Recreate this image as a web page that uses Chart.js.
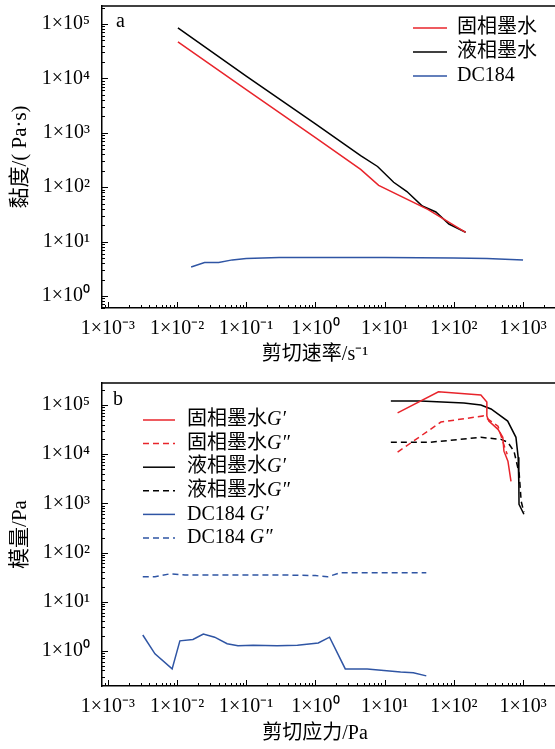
<!DOCTYPE html>
<html lang="zh">
<head>
<meta charset="utf-8">
<title>黏度与模量</title>
<script src="https://cdn.jsdelivr.net/npm/chart.js@4.4.0/dist/chart.umd.min.js"></script>
<style>
  body { margin: 0; background: #fff; }
  canvas { display: block; }
</style>
</head>
<body>
<canvas id="chartA" width="555" height="375"></canvas>
<canvas id="chartB" width="555" height="374"></canvas>
<script>
// ticks communs (échelle log)
const xTickValues = [1e-3, 1e-2, 1e-1, 1, 10, 100, 1000];
const xTickLabels = ['1×10⁻³', '1×10⁻²', '1×10⁻¹', '1×10⁰', '1×10¹', '1×10²', '1×10³'];
const yTickValues = [1, 10, 100, 1000, 1e4, 1e5];
const yTickLabels = ['1×10⁰', '1×10¹', '1×10²', '1×10³', '1×10⁴', '1×10⁵'];

// (a) viscosité en fonction du taux de cisaillement
const seriesNamesA = ['固相墨水', '液相墨水', 'DC184'];
const solidRate = [0.0103, 0.1, 1, 4.5, 8.2, 42, 148];
const solidViscosity = [4.7e4, 6.2e3, 810, 212, 108, 39, 14.8];
const liquidRate = [0.0103, 0.1, 1, 4.5, 7.9, 13.5, 21, 35, 55, 85, 148];
const liquidViscosity = [8.5e4, 1.1e4, 1.45e3, 380, 240, 123, 83, 45, 35, 21, 14.8];
const dcRate = [0.016, 0.025, 0.04, 0.063, 0.1, 0.3, 1, 10, 100, 300, 1000];
const dcViscosity = [3.4, 4.1, 4.1, 4.6, 4.9, 5.1, 5.1, 5.1, 5.0, 4.9, 4.6];

// (b) modules en fonction de la contrainte
const seriesNamesB = ['固相墨水G′', '固相墨水G″', '液相墨水G′', '液相墨水G″', 'DC184 G′', 'DC184 G″'];
const solidStressG1 = [15.4, 60, 246, 300, 300, 320, 435, 510, 530, 605, 670];
const solidG1 = [6.9e4, 1.85e5, 1.6e5, 1.15e5, 6e4, 4.7e4, 3.2e4, 2.2e4, 1.15e4, 7.2e3, 2.8e3];
const solidStressG2 = [15.4, 65, 270, 435, 550, 590];
const solidG2 = [1.1e4, 4.5e4, 6e4, 3.7e4, 1.3e4, 1e4];
const liquidStressG1 = [12.3, 33, 140, 246, 345, 600, 790, 850, 870, 875, 1030];
const liquidG1 = [1.2e5, 1.2e5, 1.1e5, 1.0e5, 8.3e4, 4.7e4, 2.2e4, 8.7e3, 2.4e3, 950, 600];
const liquidStressG2 = [12.3, 46, 246, 480, 600, 740, 880, 940, 1030];
const liquidG2 = [1.75e4, 1.75e4, 2.2e4, 2e4, 1.75e4, 1.15e4, 4e3, 1.1e3, 660];
const dcStressG1 = [0.0032, 0.0048, 0.0085, 0.011, 0.017, 0.024, 0.035, 0.053, 0.076, 0.126, 0.28, 0.55, 1.1, 1.6, 2.7, 5.6, 17, 26, 40];
const dcG1 = [2.1, 0.87, 0.43, 1.6, 1.7, 2.2, 1.9, 1.4, 1.27, 1.3, 1.27, 1.3, 1.45, 1.9, 0.43, 0.43, 0.37, 0.36, 0.31];
const dcStressG2 = [0.0032, 0.0048, 0.008, 0.013, 0.3, 1.0, 1.5, 2.3, 40];
const dcG2 = [32, 32, 37, 35, 35, 34, 32, 39, 39];

const RED = '#e8242b';
const BLACK = '#000000';
const BLUE = '#2f55a4';
const SERIF = '"Liberation Serif", "Noto Sans CJK SC", serif';

function points(xs, ys) {
    return xs.map((x, i) => ({ x: x, y: ys[i] }));
}

function serie(label, xs, ys, color, dashed) {
    return {
        label: label,
        data: points(xs, ys),
        borderColor: color,
        backgroundColor: color,
        borderWidth: 1.5,
        borderDash: dashed ? [6, 4] : [],
        pointRadius: 0,
        tension: 0,
        fill: false
    };
}

// petits traits de graduation vers l'intérieur + cadre du haut
const inwardTicks = {
    id: 'inwardTicks',
    afterDatasetsDraw(chart) {
        const ctx = chart.ctx;
        const area = chart.chartArea;
        ctx.save();
        ctx.strokeStyle = '#000';
        ctx.lineWidth = 1;
        ['x', 'y'].forEach(id => {
            const s = chart.scales[id];
            const lo = Math.floor(Math.log10(s.min));
            const hi = Math.ceil(Math.log10(s.max));
            for (let e = lo; e <= hi; e++) {
                for (let m = 1; m <= 9; m++) {
                    const v = m * Math.pow(10, e);
                    if (v < s.min || v > s.max) continue;
                    const len = m === 1 ? 6 : 3;
                    const p = Math.round(s.getPixelForValue(v)) + 0.5;
                    ctx.beginPath();
                    if (id === 'x') {
                        ctx.moveTo(p, area.bottom);
                        ctx.lineTo(p, area.bottom - len);
                    } else {
                        ctx.moveTo(area.left, p);
                        ctx.lineTo(area.left + len, p);
                    }
                    ctx.stroke();
                }
            }
        });
        ctx.lineWidth = 1.5;
        ctx.beginPath();
        ctx.moveTo(area.left, area.top);
        ctx.lineTo(area.right, area.top);
        ctx.stroke();
        ctx.restore();
    }
};

// légende en trait, lettre du panneau et titre de l'axe x
const decor = {
    id: 'decor',
    afterDraw(chart, args, opts) {
        const ctx = chart.ctx;
        ctx.save();
        ctx.fillStyle = '#000';
        ctx.textBaseline = 'middle';
        ctx.font = '20px ' + SERIF;
        ctx.fillText(opts.panel, opts.panelX, opts.panelY);
        ctx.textAlign = 'center';
        ctx.fillText(opts.xTitle, opts.xTitleX, opts.xTitleY);
        ctx.textAlign = 'left';
        chart.data.datasets.forEach((ds, i) => {
            const y = opts.y + i * opts.rowHeight;
            ctx.strokeStyle = ds.borderColor;
            ctx.lineWidth = ds.borderWidth;
            ctx.setLineDash(ds.borderDash);
            ctx.beginPath();
            ctx.moveTo(opts.x, y);
            ctx.lineTo(opts.x + opts.lineLength, y);
            ctx.stroke();
            ctx.setLineDash([]);
            const m = ds.label.match(/^(.*?)(G[′″])?$/);
            let tx = opts.x + opts.lineLength + opts.gap;
            ctx.font = '20px ' + SERIF;
            ctx.fillText(m[1], tx, y);
            if (m[2]) {
                tx += ctx.measureText(m[1]).width;
                ctx.font = 'italic 20px ' + SERIF;
                ctx.fillText(m[2], tx, y);
            }
        });
        ctx.restore();
    }
};

function logScales(opt) {
    return {
        x: {
            type: 'logarithmic',
            min: 8.24e-4,
            max: 2897,
            afterBuildTicks: s => { s.ticks = xTickValues.map(v => ({ value: v })); },
            afterFit: s => { s.height = opt.xHeight; s.paddingRight = 0; },
            grid: { display: true, drawOnChartArea: false, drawTicks: false, color: 'rgba(0,0,0,0)' },
            border: { display: true, color: '#000', width: 1.5 },
            ticks: {
                color: '#000', padding: 9, maxRotation: 0, autoSkip: false,
                font: { family: SERIF, size: 20 },
                callback: v => xTickLabels[xTickValues.indexOf(v)]
            }
        },
        y: {
            type: 'logarithmic',
            min: opt.yMin,
            max: opt.yMax,
            afterBuildTicks: s => { s.ticks = yTickValues.map(v => ({ value: v })); },
            afterFit: s => { s.width = 102; s.paddingTop = 0; s.paddingBottom = 0; },
            grid: { display: true, drawOnChartArea: false, drawTicks: false, color: 'rgba(0,0,0,0)' },
            border: { display: true, color: '#000', width: 1.5 },
            ticks: {
                color: '#000', padding: 12, autoSkip: false,
                font: { family: SERIF, size: 20 },
                callback: v => yTickLabels[yTickValues.indexOf(v)]
            },
            title: {
                display: true, text: opt.yTitle, color: '#000',
                font: { family: SERIF, size: 21 },
                padding: { top: 8, bottom: 0 }
            }
        }
    };
}

new Chart(document.getElementById('chartA'), {
    type: 'line',
    data: {
        datasets: [
            serie(seriesNamesA[0], solidRate, solidViscosity, RED, false),
            serie(seriesNamesA[1], liquidRate, liquidViscosity, BLACK, false),
            serie(seriesNamesA[2], dcRate, dcViscosity, BLUE, false)
        ]
    },
    options: {
        responsive: false,
        animation: false,
        layout: { padding: { top: 6, right: 0, bottom: 0, left: 0 } },
        scales: logScales({ xHeight: 67, yMin: 0.63, yMax: 2.14e5, yTitle: '黏度/( Pa·s)' }),
        plugins: {
            legend: { display: false },
            tooltip: { enabled: false },
            decor: {
                panel: 'a', panelX: 116, panelY: 22,
                xTitle: '剪切速率/s⁻¹', xTitleX: 315, xTitleY: 355,
                x: 413, y: 28, rowHeight: 24, lineLength: 34, gap: 10
            }
        }
    },
    plugins: [inwardTicks, decor]
});

new Chart(document.getElementById('chartB'), {
    type: 'line',
    data: {
        datasets: [
            serie(seriesNamesB[0], solidStressG1, solidG1, RED, false),
            serie(seriesNamesB[1], solidStressG2, solidG2, RED, true),
            serie(seriesNamesB[2], liquidStressG1, liquidG1, BLACK, false),
            serie(seriesNamesB[3], liquidStressG2, liquidG2, BLACK, true),
            serie(seriesNamesB[4], dcStressG1, dcG1, BLUE, false),
            serie(seriesNamesB[5], dcStressG2, dcG2, BLUE, true)
        ]
    },
    options: {
        responsive: false,
        animation: false,
        layout: { padding: { top: 8, right: 0, bottom: 0, left: 0 } },
        scales: logScales({ xHeight: 63, yMin: 0.193, yMax: 2.8e5, yTitle: '模量/Pa' }),
        plugins: {
            legend: { display: false },
            tooltip: { enabled: false },
            decor: {
                panel: 'b', panelX: 113, panelY: 25,
                xTitle: '剪切应力/Pa', xTitleX: 315, xTitleY: 359,
                x: 143, y: 45, rowHeight: 23.6, lineLength: 32, gap: 12
            }
        }
    },
    plugins: [inwardTicks, decor]
});
</script>
</body>
</html>
